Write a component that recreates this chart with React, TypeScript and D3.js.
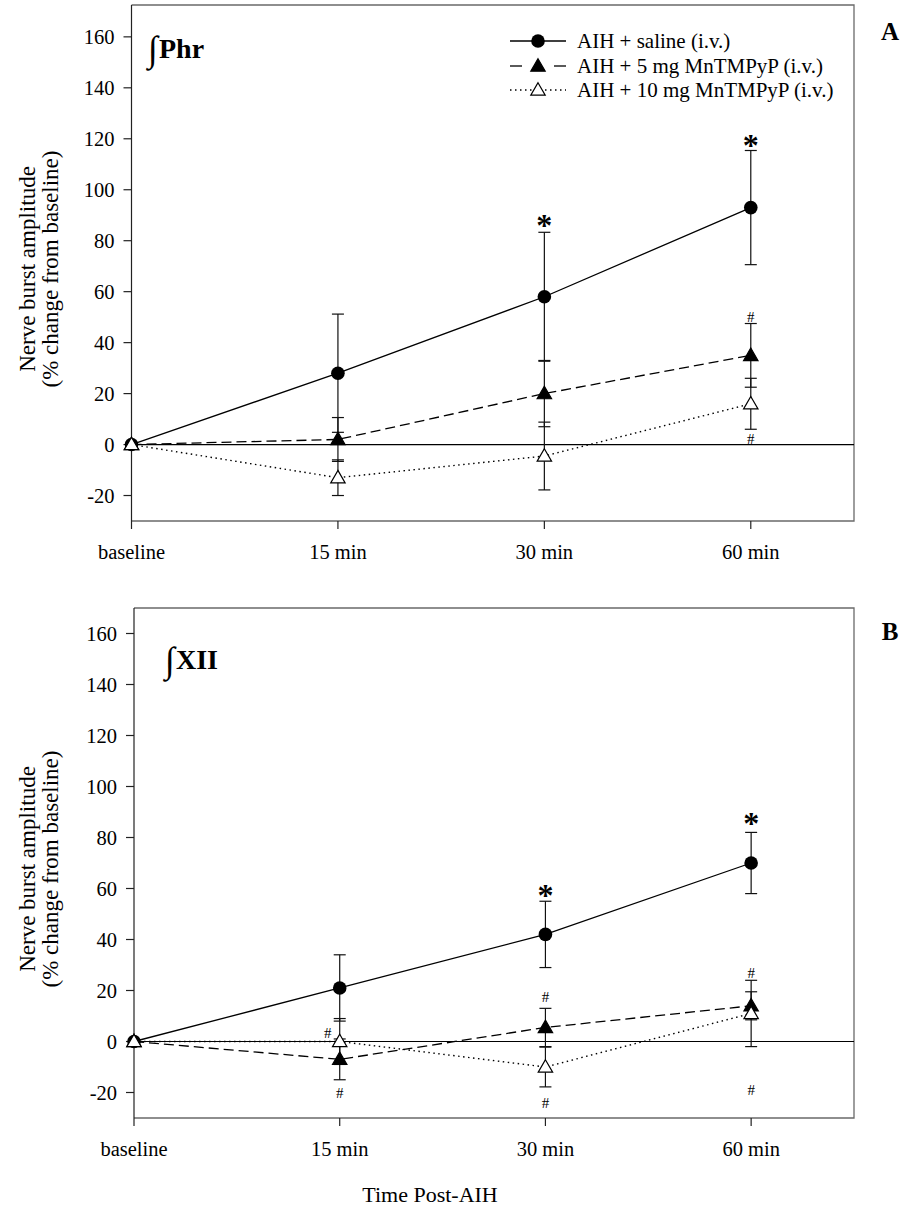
import React from "react";
import * as d3 from "d3";

// ---------- data ----------
const categories = ["baseline", "15 min", "30 min", "60 min"];
const yTicks = [-20, 0, 20, 40, 60, 80, 100, 120, 140, 160];
const seriesNames = ["AIH + saline (i.v.)", "AIH + 5 mg MnTMPyP (i.v.)", "AIH + 10 mg MnTMPyP (i.v.)"];

// Panel A: integrated phrenic
const phrSaline = [0, 28, 58, 93];
const phrSalineErr = [0, 23.2, 25.3, 22.4];
const phr5mg = [0, 2, 20, 35];
const phr5mgErr = [0, 8.6, 13, 12.5];
const phr10mg = [0, -13, -4.5, 16];
const phr10mgErr = [0, 7, 13.3, 10];

// Panel B: integrated hypoglossal (XII)
const xiiSaline = [0, 21, 42, 70];
const xiiSalineErr = [0, 13, 13, 12];
const xii5mg = [0, -7, 5.5, 14];
const xii5mgErr = [0, 8, 7.5, 5.5];
const xii10mg = [0, 0, -10, 11];
const xii10mgErr = [0, 9, 7.8, 13];

// significance marks: [category index, value, symbol, side offset]
const phrMarks: [number, number, string, number][] = [
  [2, 88, "*", 0],
  [3, 119.6, "*", 0],
  [3, 50, "#", 0],
  [3, 2, "#", 0],
];
const xiiMarks: [number, number, string, number][] = [
  [2, 59.4, "*", 0],
  [3, 87.6, "*", 0],
  [1, -20, "#", 0],
  [1, 3.5, "#", -12],
  [2, 17.5, "#", 0],
  [2, -24, "#", 0],
  [3, 27, "#", 0],
  [3, -19, "#", 0],
];

const FONT = "'Liberation Serif', 'Times New Roman', serif";

type PanelCfg = {
  top: number;
  bottom: number;
  left: number;
  right: number;
  yMax: number;
  label: string;
  labelX: number;
  labelY: number;
  letter: string;
  letterY: number;
  series: { v: number[]; e: number[] }[];
  marks: [number, number, string, number][];
};

const panels: PanelCfg[] = [
  {
    top: 5, bottom: 521, left: 131.5, right: 854, yMax: 172.5,
    label: "Phr", labelX: 150, labelY: 58, letter: "A", letterY: 40,
    series: [
      { v: phrSaline, e: phrSalineErr },
      { v: phr5mg, e: phr5mgErr },
      { v: phr10mg, e: phr10mgErr },
    ],
    marks: phrMarks,
  },
  {
    top: 608, bottom: 1118, left: 134, right: 854, yMax: 170,
    label: "XII", labelX: 167, labelY: 669, letter: "B", letterY: 640,
    series: [
      { v: xiiSaline, e: xiiSalineErr },
      { v: xii5mg, e: xii5mgErr },
      { v: xii10mg, e: xii10mgErr },
    ],
    marks: xiiMarks,
  },
];

const styles = [
  { dash: undefined as string | undefined, shape: "circle", fill: "#000" },
  { dash: "10,5", shape: "tri", fill: "#000" },
  { dash: "1.5,3.5", shape: "tri", fill: "#fff" },
];

const triPath = d3.symbol().type(d3.symbolTriangle).size(90)() as string;

function Marker({ x, y, s }: { x: number; y: number; s: number }) {
  const st = styles[s];
  if (st.shape === "circle") return <circle cx={x} cy={y} r={6.8} fill="#000" />;
  return (
    <path d={triPath} transform={`translate(${x},${y + 1})`} fill={st.fill} stroke="#000" strokeWidth={1.2} />
  );
}

function Panel({ p }: { p: PanelCfg }) {
  const x = d3.scaleLinear().domain([0, 3.5]).range([p.left, p.right]);
  const y = d3.scaleLinear().domain([-30, p.yMax]).range([p.bottom, p.top]);
  const idx = categories.map((_, i) => i);
  const line = d3
    .line<number>()
    .x((_, i) => x(i))
    .y((d) => y(d));
  const midY = (p.top + p.bottom) / 2 + 6;
  return (
    <g>
      {/* frame */}
      <path
        d={`M${p.left},${p.top}H${p.right}V${p.bottom}H${p.left}`}
        fill="none"
        stroke="#6a6a6a"
        strokeWidth={1.3}
      />
      <line x1={p.left} x2={p.left} y1={p.top} y2={p.bottom} stroke="#222" strokeWidth={1.2} />
      {/* y ticks */}
      {yTicks.map((t) => (
        <g key={t}>
          <line x1={p.left - 8} x2={p.left} y1={y(t)} y2={y(t)} stroke="#222" strokeWidth={1.2} />
          <text x={p.left - 17} y={y(t)} dy="0.35em" textAnchor="end" fontSize={20.5} fontFamily={FONT}>
            {t}
          </text>
        </g>
      ))}
      {/* x ticks */}
      {idx.map((i) => (
        <g key={i}>
          <line x1={x(i)} x2={x(i)} y1={p.bottom} y2={p.bottom + 8} stroke="#222" strokeWidth={1.2} />
          <text x={x(i)} y={p.bottom + 38} textAnchor="middle" fontSize={20.5} fontFamily={FONT}>
            {categories[i]}
          </text>
        </g>
      ))}
      {/* zero line */}
      <line x1={p.left} x2={p.right} y1={y(0)} y2={y(0)} stroke="#000" strokeWidth={1.2} />
      {/* error bars */}
      {p.series.map((s, si) =>
        idx
          .filter((i) => s.e[i] > 0)
          .map((i) => {
            const cx = x(i);
            const y1 = y(s.v[i] + s.e[i]);
            const y2 = y(s.v[i] - s.e[i]);
            return (
              <g key={`e${si}-${i}`} stroke="#111" strokeWidth={1.2}>
                <line x1={cx} x2={cx} y1={y1} y2={y2} />
                <line x1={cx - 6} x2={cx + 6} y1={y1} y2={y1} />
                <line x1={cx - 6} x2={cx + 6} y1={y2} y2={y2} />
              </g>
            );
          })
      )}
      {/* lines */}
      {p.series.map((s, si) => (
        <path
          key={`l${si}`}
          d={line(s.v) as string}
          fill="none"
          stroke="#000"
          strokeWidth={si === 2 ? 1.4 : 1.3}
          strokeDasharray={styles[si].dash}
        />
      ))}
      {/* markers */}
      {p.series.map((s, si) =>
        s.v.map((v, i) => <Marker key={`m${si}-${i}`} x={x(i)} y={y(v)} s={si} />)
      )}
      {/* significance marks */}
      {p.marks.map(([c, v, sym, dx], k) =>
        sym === "*" ? (
          <text key={`k${k}`} x={x(c) + dx} y={y(v) + 16} textAnchor="middle" fontSize={32} fontWeight="bold" fontFamily={FONT}>
            *
          </text>
        ) : (
          <text key={`k${k}`} x={x(c) + dx} y={y(v) + 5} textAnchor="middle" fontSize={15} fontFamily={FONT}>
            #
          </text>
        )
      )}
      {/* panel label */}
      <text x={p.labelX - 2} y={p.labelY + 3} fontSize={36} fontFamily={FONT}>
        ∫
      </text>
      <text x={p.labelX + 9} y={p.labelY} fontSize={28} fontWeight="bold" fontFamily={FONT}>
        {p.label}
      </text>
      <text x={890} y={p.letterY} textAnchor="middle" fontSize={25} fontWeight="bold" fontFamily={FONT}>
        {p.letter}
      </text>
      {/* y axis title */}
      <g transform={`translate(35,${midY}) rotate(-90)`}>
        <text textAnchor="middle" fontSize={23} fontFamily={FONT}>
          Nerve burst amplitude
        </text>
      </g>
      <g transform={`translate(58,${midY}) rotate(-90)`}>
        <text textAnchor="middle" fontSize={23} fontFamily={FONT}>
          (% change from baseline)
        </text>
      </g>
    </g>
  );
}

function Legend() {
  const rowsY = [41, 66, 90];
  return (
    <g>
      {seriesNames.map((n, i) => (
        <g key={n}>
          {i === 1 ? (
            <g stroke="#000" strokeWidth={1.3}>
              <line x1={510} x2={522} y1={rowsY[i]} y2={rowsY[i]} />
              <line x1={554} x2={566} y1={rowsY[i]} y2={rowsY[i]} />
            </g>
          ) : (
            <line x1={510} x2={566} y1={rowsY[i]} y2={rowsY[i]} stroke="#000" strokeWidth={1.3} strokeDasharray={styles[i].dash} />
          )}
          <Marker x={538} y={rowsY[i]} s={i} />
          <text x={577} y={rowsY[i]} dy="0.35em" fontSize={21} fontFamily={FONT}>
            {n}
          </text>
        </g>
      ))}
    </g>
  );
}

export default function App() {
  return (
    <svg
      width={924}
      height={1232}
      style={{ position: "absolute", left: 0, top: 0, background: "#fff" }}
    >
      <rect width={924} height={1232} fill="#fff" />
      {panels.map((p) => (
        <Panel key={p.letter} p={p} />
      ))}
      <Legend />
      <text x={430} y={1202} textAnchor="middle" fontSize={22} fontFamily={FONT}>
        Time Post-AIH
      </text>
    </svg>
  );
}
